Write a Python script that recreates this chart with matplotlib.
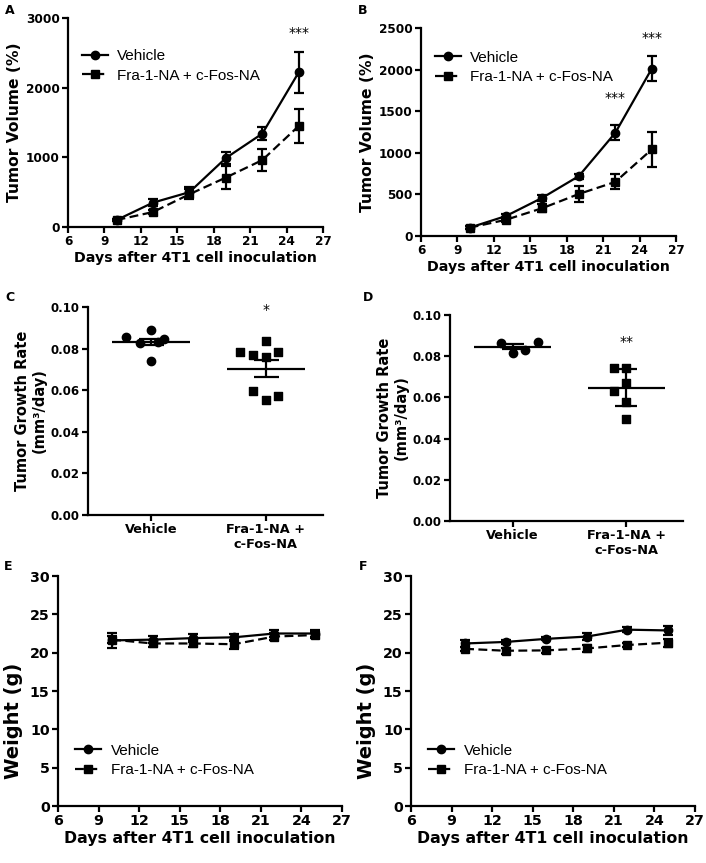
import numpy as np
import matplotlib
matplotlib.use("Agg")
import matplotlib.pyplot as plt

plt.rcParams['font.family'] = ['DejaVu Sans']
plt.rcParams['font.weight'] = 'bold'

# ---- data ----
days = [10, 13, 16, 19, 22, 25]

# A: tumor volume (%)
volA_veh = [100, 350, 500, 990, 1340, 2220]
volA_veh_err = [20, 50, 80, 80, 90, 290]
volA_fra = [100, 215, 470, 710, 960, 1450]
volA_fra_err = [20, 35, 70, 170, 160, 250]

# B: tumor volume (%)
volB_veh = [100, 240, 460, 720, 1240, 2010]
volB_veh_err = [15, 30, 35, 30, 90, 150]
volB_fra = [100, 195, 335, 505, 650, 1040]
volB_fra_err = [15, 30, 50, 100, 90, 210]

# C: growth rate points (mm3/day), x jitter offsets
groups = ["Vehicle", "Fra-1-NA +\nc-Fos-NA"]
rateC_veh = [0.0858, 0.0891, 0.0847, 0.0738, 0.0825, 0.0830]
rateC_veh_dx = [-0.22, 0.0, 0.11, 0.0, -0.10, 0.06]
rateC_fra = [0.0786, 0.0835, 0.0786, 0.0767, 0.0759, 0.0597, 0.0554, 0.0570]
rateC_fra_dx = [-0.22, 0.0, 0.11, -0.11, 0.0, -0.11, 0.0, 0.11]
rateC_mean = [0.0830, 0.0704]
rateC_err = [0.0015, 0.0042]

# D: growth rate points
rateD_veh = [0.0863, 0.0817, 0.0830, 0.0867]
rateD_veh_dx = [-0.10, 0.0, 0.11, 0.22]
rateD_fra = [0.0741, 0.0741, 0.0668, 0.0631, 0.0579, 0.0493]
rateD_fra_dx = [-0.11, 0.0, 0.0, -0.11, 0.0, 0.0]
rateD_mean = [0.0846, 0.0648]
rateD_err = [0.0012, 0.0091]

# E: weight (g)
wE_veh = [21.6, 21.7, 21.9, 22.0, 22.5, 22.5]
wE_veh_err = [1.0, 0.5, 0.5, 0.5, 0.5, 0.5]
wE_fra = [21.7, 21.2, 21.2, 21.1, 22.1, 22.3]
wE_fra_err = [0.5, 0.5, 0.5, 0.6, 0.5, 0.4]

# F: weight (g)
wF_veh = [21.2, 21.4, 21.8, 22.1, 23.0, 22.9]
wF_veh_err = [0.4, 0.3, 0.2, 0.5, 0.3, 0.6]
wF_fra = [20.5, 20.25, 20.3, 20.55, 21.0, 21.3]
wF_fra_err = [0.3, 0.4, 0.3, 0.4, 0.3, 0.5]

W, H = 706, 863
fig = plt.figure(figsize=(W / 100, H / 100), dpi=100)


def box(l, r, t, b):
    return [l / W, 1 - b / H, (r - l) / W, (b - t) / H]


def style(ax, tick_fs):
    for s in ['top', 'right']:
        ax.spines[s].set_visible(False)
    for s in ['left', 'bottom']:
        ax.spines[s].set_linewidth(1.6)
    ax.tick_params(width=1.6, length=4, labelsize=tick_fs, pad=2)
    for lab in ax.get_xticklabels() + ax.get_yticklabels():
        lab.set_fontweight('bold')


def time_panel(ax, veh, veh_err, fra, fra_err, ymax, ystep, ylabel, legloc, fs):
    ax.errorbar(days, veh, yerr=veh_err, color='black', lw=1.6, marker='o', ms=6,
                capsize=3.5, capthick=1.6, elinewidth=1.6, label='Vehicle')
    ax.errorbar(days, fra, yerr=fra_err, color='black', lw=1.6, marker='s', ms=6,
                capsize=3.5, capthick=1.6, elinewidth=1.6, ls=(0, (4, 2)),
                label='Fra-1-NA + c-Fos-NA')
    ax.set_xlim(6, 27)
    ax.set_ylim(0, ymax)
    ax.set_xticks(range(6, 28, 3))
    ax.set_yticks(np.arange(0, ymax + 1, ystep))
    ax.set_xlabel('Days after 4T1 cell inoculation', fontsize=fs[1], fontweight='bold', labelpad=2)
    ax.set_ylabel(ylabel, fontsize=fs[2], fontweight='bold', labelpad=3)
    h, l = ax.get_legend_handles_labels()
    h = [x[0] for x in h]
    ax.legend(h, l, frameon=False, loc=legloc[0], bbox_to_anchor=legloc[1],
              prop={'family': 'Liberation Sans', 'size': 11, 'weight': 'normal'},
              handlelength=1.7, handletextpad=0.6, labelspacing=0.35,
              borderaxespad=0)
    style(ax, fs[0])


def dot_panel(ax, veh, veh_dx, fra, fra_dx, means, errs, caps):
    ax.scatter(np.array(veh_dx) + 0, veh, marker='o', s=36, color='black', zorder=3)
    ax.scatter(np.array(fra_dx) + 1, fra, marker='s', s=40, color='black', zorder=3)
    ax.hlines(means, [-0.34, 0.66], [0.34, 1.34], color='black', lw=1.6, zorder=4)
    for i in range(2):
        ax.errorbar([i], [means[i]], yerr=[errs[i]], color='black', lw=1.6, fmt='none',
                    capsize=caps[i], capthick=1.6, elinewidth=1.6, zorder=4)
    ax.set_xlim(-0.55, 1.5)
    ax.set_ylim(0, 0.1)
    ax.set_yticks(np.arange(0, 0.101, 0.02))
    ax.yaxis.set_major_formatter(matplotlib.ticker.FormatStrFormatter('%.2f'))
    ax.set_xticks([0, 1])
    ax.set_xticklabels(groups)
    ax.set_ylabel('Tumor Growth Rate\n(mm\u00b3/day)', fontsize=10.5, fontweight='bold',
                  labelpad=3, linespacing=1.1)
    style(ax, 8.5)
    ax.tick_params(axis='x', labelsize=9.3)


axA = fig.add_axes(box(68, 323, 18, 227))
time_panel(axA, volA_veh, volA_veh_err, volA_fra, volA_fra_err, 3000, 1000,
           'Tumor Volume (%)', ('upper left', (0.03, 0.88)), (8.7, 10.2, 11.2))
axA.text(25, 2780, '***', ha='center', va='center', fontsize=10, fontweight='normal')

axB = fig.add_axes(box(421, 676, 28, 236))
time_panel(axB, volB_veh, volB_veh_err, volB_fra, volB_fra_err, 2500, 500,
           'Tumor Volume (%)', ('upper left', (0.03, 0.92)), (8.7, 10.2, 11.2))
axB.text(25, 2380, '***', ha='center', va='center', fontsize=10, fontweight='normal')
axB.text(22, 1660, '***', ha='center', va='center', fontsize=10, fontweight='normal')

axC = fig.add_axes(box(88, 323, 307, 515))
dot_panel(axC, rateC_veh, rateC_veh_dx, rateC_fra, rateC_fra_dx, rateC_mean, rateC_err, (9, 9))
axC.text(1, 0.0985, '*', ha='center', va='center', fontsize=10, fontweight='normal')

axD = fig.add_axes(box(450, 683, 315, 521))
dot_panel(axD, rateD_veh, rateD_veh_dx, rateD_fra, rateD_fra_dx, rateD_mean, rateD_err, (8, 8))
axD.text(1, 0.0868, '**', ha='center', va='center', fontsize=10, fontweight='normal')

axE = fig.add_axes(box(58, 342, 576, 806))
time_panel(axE, wE_veh, wE_veh_err, wE_fra, wE_fra_err, 30, 5,
           'Weight (g)', ('lower left', (0.04, 0.1)), (10.3, 11.3, 14))

axF = fig.add_axes(box(411, 695, 576, 806))
time_panel(axF, wF_veh, wF_veh_err, wF_fra, wF_fra_err, 30, 5,
           'Weight (g)', ('lower left', (0.04, 0.1)), (10.3, 11.3, 14))

for ax in (axE, axF):
    ax.yaxis.set_label_coords(-0.125, 0.37)

for lbl, x, y in [('A', 10, 10), ('B', 363, 10), ('C', 10, 297),
                  ('D', 368, 297), ('E', 8, 567), ('F', 363, 567)]:
    fig.text(x / W, 1 - y / H, lbl, fontsize=9, fontweight='bold', ha='center', va='center')

fig.savefig('out.png', dpi=100)
